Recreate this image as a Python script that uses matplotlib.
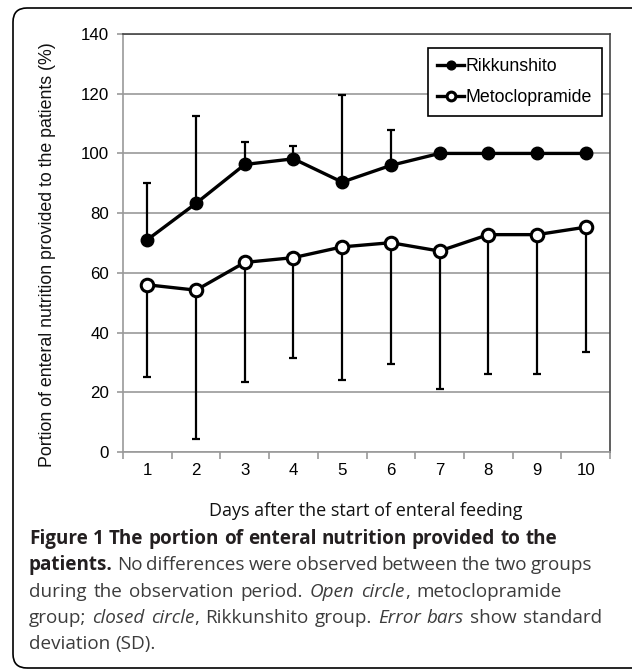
import matplotlib
matplotlib.use("Agg")
import matplotlib.pyplot as plt
from matplotlib.patches import FancyBboxPatch
import numpy as np

days = [1, 2, 3, 4, 5, 6, 7, 8, 9, 10]
rikkunshito = [71.1, 83.3, 96.3, 98.2, 90.4, 96.0, 100, 100, 100, 100]
rikkunshito_sd = [18.9, 29.1, 7.5, 4.2, 29.3, 12.0, 0, 0, 0, 0]
metoclopramide = [56.0, 54.2, 63.5, 65.1, 68.7, 70.1, 67.3, 72.8, 72.8, 75.3]
metoclopramide_sd = [31.0, 49.9, 40.1, 33.5, 44.5, 40.7, 46.1, 46.7, 46.7, 41.7]
yticks = [0, 20, 40, 60, 80, 100, 120, 140]

ylabel = "Portion of enteral nutrition provided to the patients (%)"
xlabel = "Days after the start of enteral feeding"

# caption lines: list of words, each word a list of (text, style) pieces
caption = [
    [[("Figure", "b")], [("1", "b")], [("The", "b")], [("portion", "b")], [("of", "b")],
     [("enteral", "b")], [("nutrition", "b")], [("provided", "b")], [("to", "b")], [("the", "b")]],
    [[("patients.", "b")], [("No", "r")], [("differences", "r")], [("were", "r")], [("observed", "r")],
     [("between", "r")], [("the", "r")], [("two", "r")], [("groups", "r")]],
    [[("during", "r")], [("the", "r")], [("observation", "r")], [("period.", "r")], [("Open", "i")],
     [("circle", "i"), (",", "r")], [("metoclopramide", "r")]],
    [[("group;", "r")], [("closed", "i")], [("circle", "i"), (",", "r")], [("Rikkunshito", "r")],
     [("group.", "r")], [("Error", "i")], [("bars", "i")], [("show", "r")], [("standard", "r")]],
    [[("deviation", "r")], [("(SD).", "r")]],
]
line_right = [557, 591, 562, 602, None]

W, H = 632, 672
fig = plt.figure(figsize=(W / 100, H / 100), dpi=100)

ax_left, ax_right, ax_top, ax_bottom = 123, 610, 34, 452
ax = fig.add_axes([ax_left / W, 1 - ax_bottom / H, (ax_right - ax_left) / W, (ax_bottom - ax_top) / H])

tick_font = {"family": "Liberation Sans", "size": 12.2}
grid_c = "#9a9a9a"

ax.set_xlim(0.5, 10.5)
ax.set_ylim(0, 140)
ax.set_yticks(yticks)
ax.set_yticklabels([str(v) for v in yticks], fontdict=tick_font)
ax.yaxis.grid(True, color=grid_c, linewidth=1.2, zorder=0)
ax.set_axisbelow(True)

# category axis: ticks at boundaries, labels at centres
ax.set_xticks(np.arange(0.5, 11, 1))
ax.set_xticklabels([])
ax.set_xticks(days, minor=True)
ax.set_xticklabels([str(d) for d in days], minor=True, fontdict=tick_font)
ax.tick_params(axis="x", which="major", length=5, width=1.2, color=grid_c)
ax.tick_params(axis="x", which="minor", length=0, pad=8)
ax.tick_params(axis="y", length=4, width=1.2, color=grid_c, pad=6)

for s in ["left", "bottom"]:
    ax.spines[s].set_color(grid_c)
    ax.spines[s].set_linewidth(1.2)
for s in ["top", "right"]:
    ax.spines[s].set_color("#444444")
    ax.spines[s].set_linewidth(1.2)

# one-sided error bars
ax.errorbar(days, rikkunshito, yerr=[np.zeros(10), rikkunshito_sd], fmt="none",
            ecolor="black", elinewidth=1.6, capsize=3, capthick=1.6, zorder=2)
ax.errorbar(days, metoclopramide, yerr=[metoclopramide_sd, np.zeros(10)], fmt="none",
            ecolor="black", elinewidth=1.6, capsize=3, capthick=1.6, zorder=2)

ax.plot(days, rikkunshito, color="black", linewidth=2.4, marker="o", markersize=9,
        markerfacecolor="black", markeredgecolor="black", label="Rikkunshito", zorder=3)
ax.plot(days, metoclopramide, color="black", linewidth=2.4, marker="o", markersize=9,
        markerfacecolor="white", markeredgecolor="black", markeredgewidth=2.2,
        label="Metoclopramide", zorder=3)

leg = ax.legend(loc="upper right", bbox_to_anchor=((602 - ax_left) / (ax_right - ax_left),
                (ax_bottom - 48) / (ax_bottom - ax_top)),
                prop={"family": "Liberation Sans", "size": 12.8}, handlelength=1.5,
                handletextpad=0.1, borderpad=0.55, labelspacing=0.8, fancybox=False,
                framealpha=1, edgecolor="black", markerscale=0.7, borderaxespad=0)
leg.get_frame().set_linewidth(1.2)

fig.text(48 / W, 1 - 255 / H, ylabel, rotation=90, ha="center", va="center",
         family="Liberation Sans", size=12.8, color="#111111")
fig.text(366 / W, 1 - 511 / H, xlabel, ha="center", va="center",
         family="Open Sans", size=13, color="#111111")

# rounded frame around the figure
frame = FancyBboxPatch((13, H - 668), 700, 660, boxstyle="round,pad=0,rounding_size=14",
                       transform=None, facecolor="none", edgecolor="black", linewidth=1.2)
fig.patches.append(frame)

# caption, drawn word by word so lines can be justified
cap_size = 13.6
styles = {
    "b": dict(family="Open Sans", weight="bold", color="#231f20"),
    "r": dict(family="Open Sans", weight="normal", color="#3c3c3c"),
    "i": dict(family="Open Sans", style="italic", weight="normal", color="#3c3c3c"),
}
renderer = fig.canvas.get_renderer()


def text_width(s, st):
    t = fig.text(0, 0, s, size=cap_size, **styles[st])
    w = t.get_window_extent(renderer).width
    t.remove()
    return w


space_w = text_width("x x", "r") - text_width("xx", "r")
x0 = 29
y0 = 539
line_h = 26.3
for i, line in enumerate(caption):
    widths = [[text_width(p, st) for p, st in word] for word in line]
    word_w = [sum(w) for w in widths]
    gap = space_w
    if line_right[i] is not None and len(line) > 1:
        gap = max(space_w * 0.8, (line_right[i] - x0 - sum(word_w)) / (len(line) - 1))
    x = x0
    y = H - (y0 + i * line_h)
    for word, ws in zip(line, widths):
        for (p, st), w in zip(word, ws):
            fig.text(x / W, y / H, p, size=cap_size, va="center", ha="left", **styles[st])
            x += w
        x += gap

fig.savefig("out.png", dpi=100)
